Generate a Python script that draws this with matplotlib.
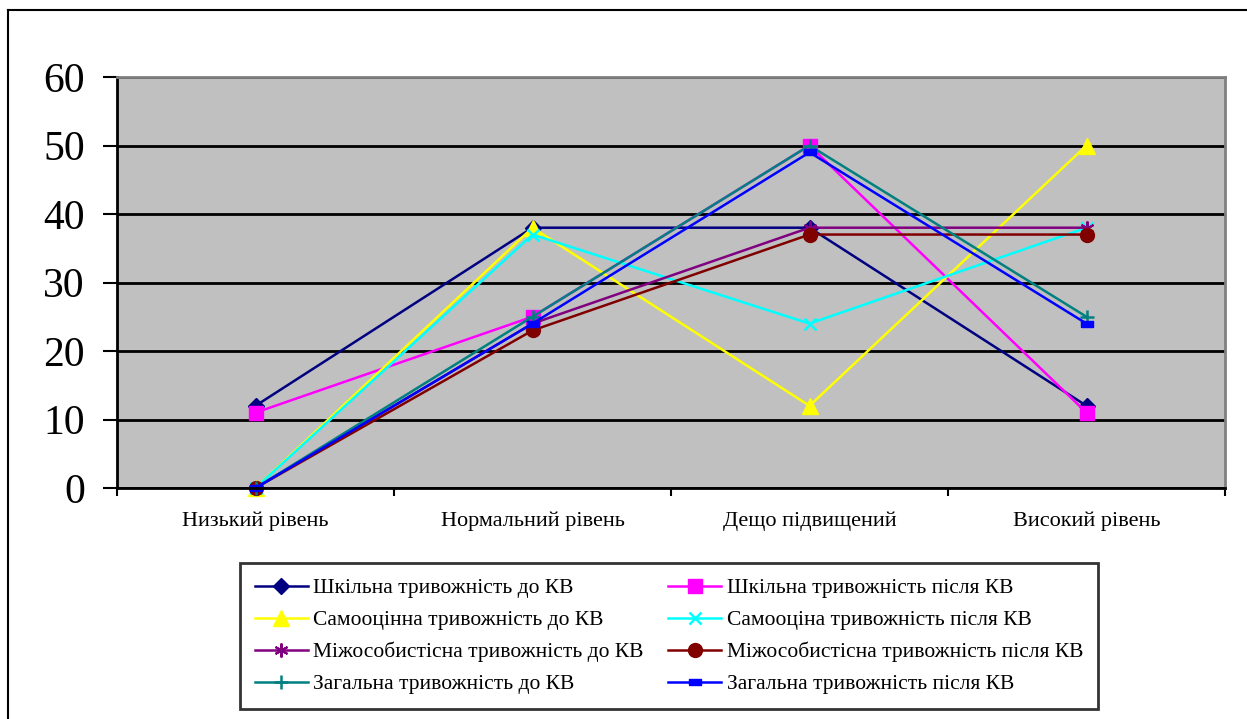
import matplotlib.pyplot as plt
import numpy as np
from matplotlib.lines import Line2D

plt.rcParams['font.family'] = ['Liberation Serif', 'DejaVu Serif']

categories = ['Низький рівень', 'Нормальний рівень', 'Дещо підвищений', 'Високий рівень']

names = ['Шкільна тривожність до КВ', 'Шкільна тривожність після КВ',
         'Самооцінна тривожність до КВ', 'Самооціна тривожність після КВ',
         'Міжособистісна тривожність до КВ', 'Міжособистісна тривожність після КВ',
         'Загальна тривожність до КВ', 'Загальна тривожність після КВ']

school_before = [12, 38, 38, 12]
school_after = [11, 25, 50, 11]
self_before = [0, 38, 12, 50]
self_after = [0, 37, 24, 38]
inter_before = [0, 24, 38, 38]
inter_after = [0, 23, 37, 37]
total_before = [0, 25, 50, 25]
total_after = [0, 24, 49, 24]

series = [school_before, school_after, self_before, self_after,
          inter_before, inter_after, total_before, total_after]

colors = ['#000080', '#FF00FF', '#FFFF00', '#00FFFF',
          '#800080', '#800000', '#008080', '#0000FF']
dash = [(-1, -0.5), (1, -0.5), (1, 0.5), (-1, 0.5), (-1, -0.5)]
markers = ['D', 's', '^', 'x', (6, 2, 0), 'o', '+', dash]
msizes = [8, 10, 11, 9, 10, 10, 10, 8]
mews = [1, 1, 1, 1.8, 1.5, 1, 1.8, 1]

fig = plt.figure(figsize=(12.47, 7.19), dpi=100)
ax = fig.add_axes([117/1247, 1-488/719, (1225-117)/1247, (488-77)/719])
ax.set_facecolor('#C0C0C0')

x = np.arange(len(categories))
lines = []
for vals, name, c, m, ms, mw in zip(series, names, colors, markers, msizes, mews):
    ln, = ax.plot(x, vals, color=c, lw=1.8, marker=m, markersize=ms,
                  markeredgewidth=mw, markerfacecolor=c, markeredgecolor=c,
                  label=name, clip_on=False)
    lines.append(ln)

ax.set_xlim(-0.5, 3.5)
ax.set_ylim(0, 60)
ax.set_yticks(range(0, 61, 10))
ax.yaxis.grid(True, color='black', lw=2)
ax.set_axisbelow(True)

ax.set_xticks(x)
ax.set_xticklabels(categories, fontsize=16)
ax.set_xticks(np.arange(-0.5, 4, 1), minor=True)
ax.tick_params(axis='x', which='major', length=0, pad=17)
ax.tick_params(axis='x', which='minor', length=6, width=1.5, direction='out')
ax.tick_params(axis='y', labelsize=30, length=10, width=1.5, pad=13)

for s in ['left', 'bottom']:
    ax.spines[s].set_color('black')
    ax.spines[s].set_linewidth(2)
for s in ['top', 'right']:
    ax.spines[s].set_color('#808080')
    ax.spines[s].set_linewidth(2)

# legend fills row by row in the original
order = [0, 2, 4, 6, 1, 3, 5, 7]
leg = ax.legend([lines[i] for i in order], [names[i] for i in order],
                loc='upper left',
                bbox_to_anchor=(240/1247, 1-706/719, (1098-240)/1247, (706-563)/719),
                bbox_transform=fig.transFigure, ncol=2, mode='expand', fontsize=15.5,
                frameon=True, fancybox=False, handlelength=2.45, handletextpad=0.25,
                borderaxespad=0, borderpad=0.7, labelspacing=0.55)
leg.get_frame().set_edgecolor('black')
leg.get_frame().set_linewidth(2)

fig.add_artist(Line2D([8/1247, 8/1247], [0, 1-10/719], color='black', lw=1.5, transform=fig.transFigure))
fig.add_artist(Line2D([8/1247, 1], [1-10/719, 1-10/719], color='black', lw=1.5, transform=fig.transFigure))

fig.savefig('out.png', dpi=100)
